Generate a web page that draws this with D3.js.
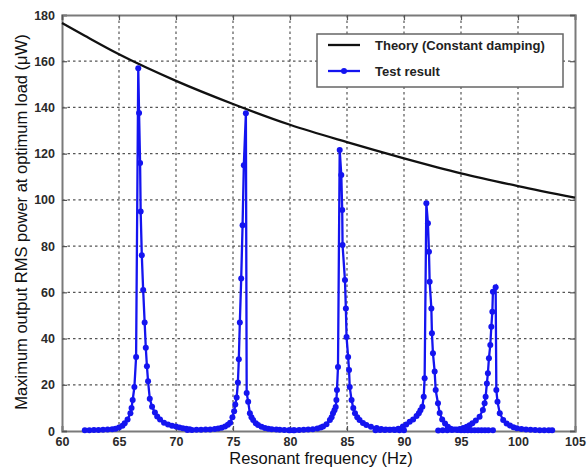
<!DOCTYPE html>
<html><head><meta charset="utf-8">
<script src="https://cdn.jsdelivr.net/npm/d3@7"></script>
<style>html,body{margin:0;padding:0;background:#fff;}svg{display:block;}</style>
</head><body>
<svg id="chart" width="588" height="471"></svg>
<script>
// ---- DATA ----
const xTicks = [60, 65, 70, 75, 80, 85, 90, 95, 100, 105];
const yTicks = [0, 20, 40, 60, 80, 100, 120, 140, 160, 180];
const seriesNames = ["Theory (Constant damping)", "Test result"];
// theory curve [frequency Hz, power µW]
const theory = [[60,176.5],[62,171],[65,163],[70,151.5],[75,141.5],[80,132.5],[85,125],[90,118],[95,111.5],[100,106],[105,101]];
// test sweeps [frequency Hz, power µW]
const sweep1 = [[62.0,0.3],[62.4,0.3],[62.8,0.4],[63.2,0.4],[63.6,0.5],[64.0,0.6],[64.4,0.8],[64.7,1.0],[65.0,1.5],[65.3,2.3],[65.5,3.4],[65.75,5],[66.0,7.7],[66.1,10],[66.2,13.4],[66.35,19],[66.5,32],[66.69,157],[66.76,137.6],[66.85,116],[66.9,95],[67.0,76],[67.12,61],[67.25,47],[67.35,36],[67.45,28],[67.55,21.5],[67.7,14],[67.9,10.5],[68.15,8],[68.35,6.3],[68.6,5],[68.95,3.6],[69.3,2.8],[69.65,2.3],[70.0,1.9],[70.3,1.5],[70.6,1.2],[70.9,1.0],[71.2,0.8]];
const sweep2 = [[71.0,0.4],[71.4,0.4],[71.8,0.5],[72.2,0.5],[72.6,0.6],[73.0,0.7],[73.4,0.9],[73.7,1.1],[74.0,1.4],[74.3,1.9],[74.55,2.7],[74.75,3.6],[74.95,6],[75.1,8.5],[75.2,11.5],[75.32,14.5],[75.43,21],[75.51,31],[75.6,47],[75.72,66],[75.84,89],[75.95,115],[76.13,137.5],[76.2,16.4],[76.33,12.7],[76.48,7.7],[76.62,6],[76.77,4.8],[77.0,3.4],[77.2,2.6],[77.5,1.8],[77.8,1.3],[78.1,1.0],[78.4,0.8],[78.8,0.6],[79.1,0.5],[79.5,0.4],[79.9,0.3],[80.3,0.3]];
const sweep3 = [[80.0,0.3],[80.4,0.3],[80.8,0.4],[81.2,0.5],[81.6,0.6],[82.0,0.8],[82.4,1.1],[82.7,1.5],[82.9,1.9],[83.2,2.9],[83.5,4.8],[83.65,6],[83.77,7.7],[83.9,9],[84.01,10.4],[84.07,13.4],[84.12,17.7],[84.21,27.7],[84.36,121.6],[84.5,110.8],[84.58,95.6],[84.61,80.5],[84.82,65.3],[84.9,53],[84.96,40.7],[85.1,32],[85.18,26.4],[85.24,19],[85.4,13.4],[85.55,10],[85.7,7.7],[85.9,6],[86.1,4.8],[86.4,3.5],[86.7,2.6],[87.1,1.8],[87.6,1.3],[88.0,0.9],[88.4,0.7],[88.8,0.5],[89.2,0.4],[89.6,0.3],[90.0,0.3]];
const sweep4 = [[87.5,0.3],[87.9,0.4],[88.3,0.4],[88.7,0.5],[89.1,0.7],[89.5,1.0],[89.9,1.9],[90.2,2.8],[90.5,4.0],[90.8,5.0],[91.1,6.5],[91.3,7.7],[91.44,9],[91.61,10.5],[91.73,14.8],[91.81,22.8],[91.96,98.5],[92.1,89.9],[92.19,77.6],[92.25,64.6],[92.4,53],[92.45,42.3],[92.54,33.6],[92.69,25.7],[92.78,17.7],[92.98,12],[93.13,7.8],[93.35,5],[93.6,3.2],[93.85,1.8],[94.1,1.0],[94.4,0.6],[94.7,0.4],[95.0,0.3],[95.3,0.3],[95.6,0.3],[95.9,0.3],[96.2,0.3],[96.5,0.3],[96.8,0.3],[97.1,0.3],[97.4,0.3],[97.8,0.3]];
const sweep5 = [[93.0,0.2],[93.4,0.3],[93.8,0.3],[94.2,0.4],[94.6,0.6],[94.9,0.9],[95.2,1.3],[95.5,1.8],[95.75,2.5],[96.0,3.3],[96.3,4.5],[96.63,6.2],[96.92,9.1],[97.07,12],[97.16,14.8],[97.27,20.6],[97.36,25],[97.45,31.5],[97.57,37.2],[97.66,45.1],[97.75,51.6],[97.8,60.3],[98.04,62.2],[98.1,17.7],[98.2,12.7],[98.4,7.7],[98.7,4.8],[99.0,3.2],[99.3,2.4],[99.6,1.6],[99.9,1.2],[100.3,0.9],[100.7,0.7],[101.1,0.5],[101.5,0.4],[101.9,0.3],[102.3,0.3],[102.7,0.3],[103.0,0.3]];
const sweeps = [sweep1, sweep2, sweep3, sweep4, sweep5];

// ---- LAYOUT ----
const svg = d3.select("#chart");
const L = 62, R = 575, T = 15, B = 431;
const x = d3.scaleLinear().domain([60, 105]).range([L, R]);
const y = d3.scaleLinear().domain([0, 180]).range([B, T]);
const blue = "#1414f0";
const font = "'Liberation Sans', Arial, Helvetica, sans-serif";

// grid
const grid = svg.append("g");
grid.selectAll("line.gx").data(xTicks.slice(1, -1)).enter().append("line")
  .attr("x1", d => x(d)).attr("x2", d => x(d)).attr("y1", T).attr("y2", B)
  .attr("stroke", "#555").attr("stroke-width", 1.2).attr("stroke-dasharray", "2.5,3");
grid.selectAll("line.gy").data(yTicks.slice(1, -1)).enter().append("line")
  .attr("y1", d => y(d)).attr("y2", d => y(d)).attr("x1", L).attr("x2", R)
  .attr("stroke", "#555").attr("stroke-width", 1.2).attr("stroke-dasharray", "2.5,3");

// axes (ticks inward)
const axB = svg.append("g").attr("transform", `translate(0,${B})`)
  .call(d3.axisBottom(x).tickValues(xTicks).tickSize(-5).tickPadding(6).tickFormat(d3.format("d")));
const axL = svg.append("g").attr("transform", `translate(${L},0)`)
  .call(d3.axisLeft(y).tickValues(yTicks).tickSize(-5).tickPadding(7).tickFormat(d3.format("d")));
const axT = svg.append("g").attr("transform", `translate(0,${T})`)
  .call(d3.axisTop(x).tickValues(xTicks).tickSize(-5).tickFormat(""));
const axR = svg.append("g").attr("transform", `translate(${R},0)`)
  .call(d3.axisRight(y).tickValues(yTicks).tickSize(-5).tickFormat(""));
[axB, axL, axT, axR].forEach(a => {
  a.select(".domain").attr("stroke", "#7a7a7a").attr("stroke-width", 2);
  a.selectAll(".tick line").attr("stroke", "#555").attr("stroke-width", 1.2);
  a.selectAll("text").style("font-family", font).style("font-size", "12.5px")
    .style("font-weight", "700").attr("fill", "#2a2a2a");
});

// theory line
svg.append("path").datum(theory)
  .attr("fill", "none").attr("stroke", "#111").attr("stroke-width", 2.3)
  .attr("d", d3.line().x(d => x(d[0])).y(d => y(d[1])).curve(d3.curveMonotoneX));

// test sweeps
const line = d3.line().x(d => x(d[0])).y(d => y(d[1]));
sweeps.forEach(s => {
  svg.append("path").datum(s).attr("fill", "none").attr("stroke", blue)
    .attr("stroke-width", 2.3).attr("d", line);
  svg.append("g").selectAll("circle").data(s).enter().append("circle")
    .attr("cx", d => x(d[0])).attr("cy", d => y(d[1])).attr("r", 3).attr("fill", blue);
});

// legend
const lg = svg.append("g");
lg.append("rect").attr("x", 317).attr("y", 34).attr("width", 246).attr("height", 53)
  .attr("fill", "#fff").attr("stroke", "#666").attr("stroke-width", 1.5);
lg.append("line").attr("x1", 328).attr("x2", 360).attr("y1", 45).attr("y2", 45)
  .attr("stroke", "#111").attr("stroke-width", 2.3);
lg.append("line").attr("x1", 328).attr("x2", 360).attr("y1", 71).attr("y2", 71)
  .attr("stroke", blue).attr("stroke-width", 2.3);
lg.append("circle").attr("cx", 344).attr("cy", 71).attr("r", 3).attr("fill", blue);
lg.selectAll("text").data(seriesNames).enter().append("text")
  .attr("x", 375).attr("y", (d, i) => 49.5 + i * 26)
  .style("font-family", font).style("font-size", "13px").style("font-weight", "700")
  .attr("fill", "#222").text(d => d);

// axis titles
svg.append("text").attr("x", 321).attr("y", 464).attr("text-anchor", "middle")
  .style("font-family", font).style("font-size", "16.5px").attr("fill", "#111")
  .text("Resonant frequency (Hz)");
svg.append("text").attr("transform", "translate(27,222) rotate(-90)").attr("text-anchor", "middle")
  .style("font-family", font).style("font-size", "16.5px").attr("fill", "#111")
  .text("Maximum output RMS power at optimum load (μW)");
</script>
</body></html>
